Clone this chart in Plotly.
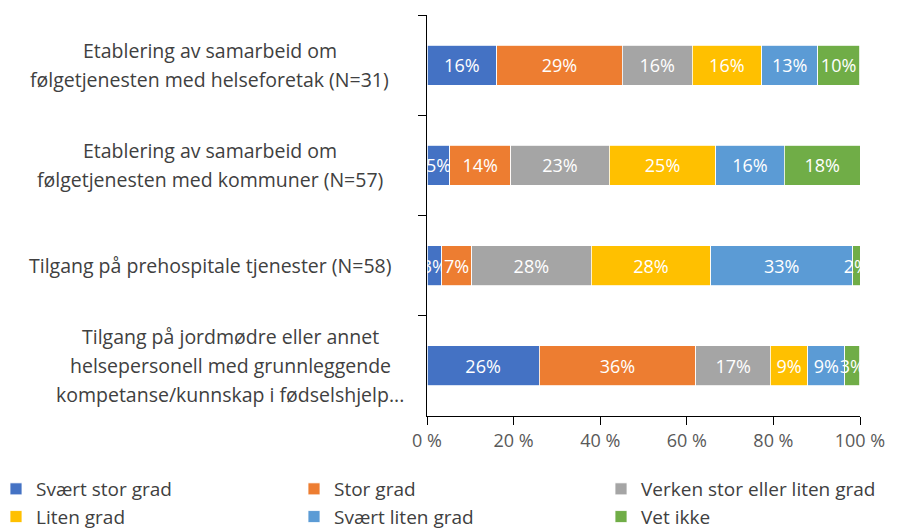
import plotly.graph_objects as go

categories = [
    "Etablering av samarbeid om\nfølgetjenesten med helseforetak (N=31)",
    "Etablering av samarbeid om\nfølgetjenesten med kommuner (N=57)",
    "Tilgang på prehospitale tjenester (N=58)",
    "Tilgang på jordmødre eller annet\nhelsepersonell med grunnleggende\nkompetanse/kunnskap i fødselshjelp...",
]

series_names = ["Svært stor grad", "Stor grad", "Verken stor eller liten grad",
                "Liten grad", "Svært liten grad", "Vet ikke"]
svaert_stor = [16.1, 5.3, 3.4, 25.9]
stor = [29.0, 14.0, 6.9, 36.2]
verken = [16.1, 22.8, 27.6, 17.2]
liten = [16.1, 24.6, 27.6, 8.6]
svaert_liten = [12.9, 15.8, 32.8, 8.6]
vet_ikke = [9.7, 17.5, 1.7, 3.4]
series_values = [svaert_stor, stor, verken, liten, svaert_liten, vet_ikke]
colors = ["#4472C4", "#ED7D31", "#A5A5A5", "#FFC000", "#5B9BD5", "#70AD47"]

tick_vals = [0, 20, 40, 60, 80, 100]
tick_text = ["0 %", "20 %", "40 %", "60 %", "80 %", "100 %"]

FONT = "Open Sans"

# layout geometry (figure pixels; page adds 8px body margin)
W, H = 896, 522
L, R, T, B = 419, 44, 7, 114
PW = W - L - R
PH = H - T - B


def px_to_paper_x(page_x):
    return (page_x - 8 - L) / PW


def px_to_paper_y(page_y):
    return (H - B - (page_y - 8)) / PH


label_center_page_x = [210, 210, 210, 230]
legend_cols_page_x = [-4, 294, 601]
legend_slots = ["legend", "legend2", "legend3", "legend", "legend2", "legend3"]

fig = go.Figure()
for i, (name, vals, col) in enumerate(zip(series_names, series_values, colors)):
    fig.add_trace(go.Bar(
        x=vals, y=categories, orientation="h", name=name,
        marker=dict(color=col, line=dict(color="white", width=0.8)),
        texttemplate="%{x:.0f}%", textposition="inside",
        insidetextanchor="middle", textangle=0,
        textfont=dict(color="white", size=18, family=FONT),
        width=0.4, hoverinfo="skip",
        legend=legend_slots[i], legendgroup=name,
    ))

# category labels (centered multi-line)
line_gap = 29
for cat, cx in zip(categories, label_center_page_x):
    lines = cat.split("\n")
    n = len(lines)
    for i, ln in enumerate(lines):
        fig.add_annotation(
            x=px_to_paper_x(cx), xref="paper", y=cat, yref="y", text=ln,
            showarrow=False, xanchor="center", yanchor="middle",
            yshift=((n - 1) / 2 - i) * line_gap,
            font=dict(size=19.5, color="#404040", family=FONT),
        )

legend_common = dict(
    orientation="v", yanchor="top", xanchor="left",
    y=px_to_paper_y(470),
    font=dict(size=19, color="#404040", family=FONT),
    traceorder="grouped", tracegroupgap=0,
    itemclick=False, itemdoubleclick=False,
    bgcolor="rgba(0,0,0,0)",
)

fig.update_layout(
    barmode="stack",
    width=W, height=H,
    margin=dict(l=L, r=R, t=T, b=B, autoexpand=False),
    paper_bgcolor="white", plot_bgcolor="white",
    font=dict(family=FONT, color="#595959"),
    uniformtext=dict(minsize=18, mode="show"),
    showlegend=True,
    legend=dict(x=px_to_paper_x(legend_cols_page_x[0]), **legend_common),
    legend2=dict(x=px_to_paper_x(legend_cols_page_x[1]), **legend_common),
    legend3=dict(x=px_to_paper_x(legend_cols_page_x[2]), **legend_common),
)
fig.update_xaxes(
    range=[0, 100], tickvals=tick_vals, ticktext=tick_text,
    showgrid=False, zeroline=False, showline=True, linecolor="#000000", linewidth=1,
    ticks="outside", ticklen=8, tickcolor="#000000",
    tickfont=dict(size=18, color="#595959", family=FONT), fixedrange=True,
)
fig.update_yaxes(
    categoryorder="array", categoryarray=categories, autorange="reversed",
    showticklabels=False, showgrid=False, zeroline=False,
    showline=True, linecolor="#000000", linewidth=1,
    ticks="outside", tickson="boundaries", ticklen=8, tickcolor="#000000",
    fixedrange=True,
)

fig.write_html("out.html")
